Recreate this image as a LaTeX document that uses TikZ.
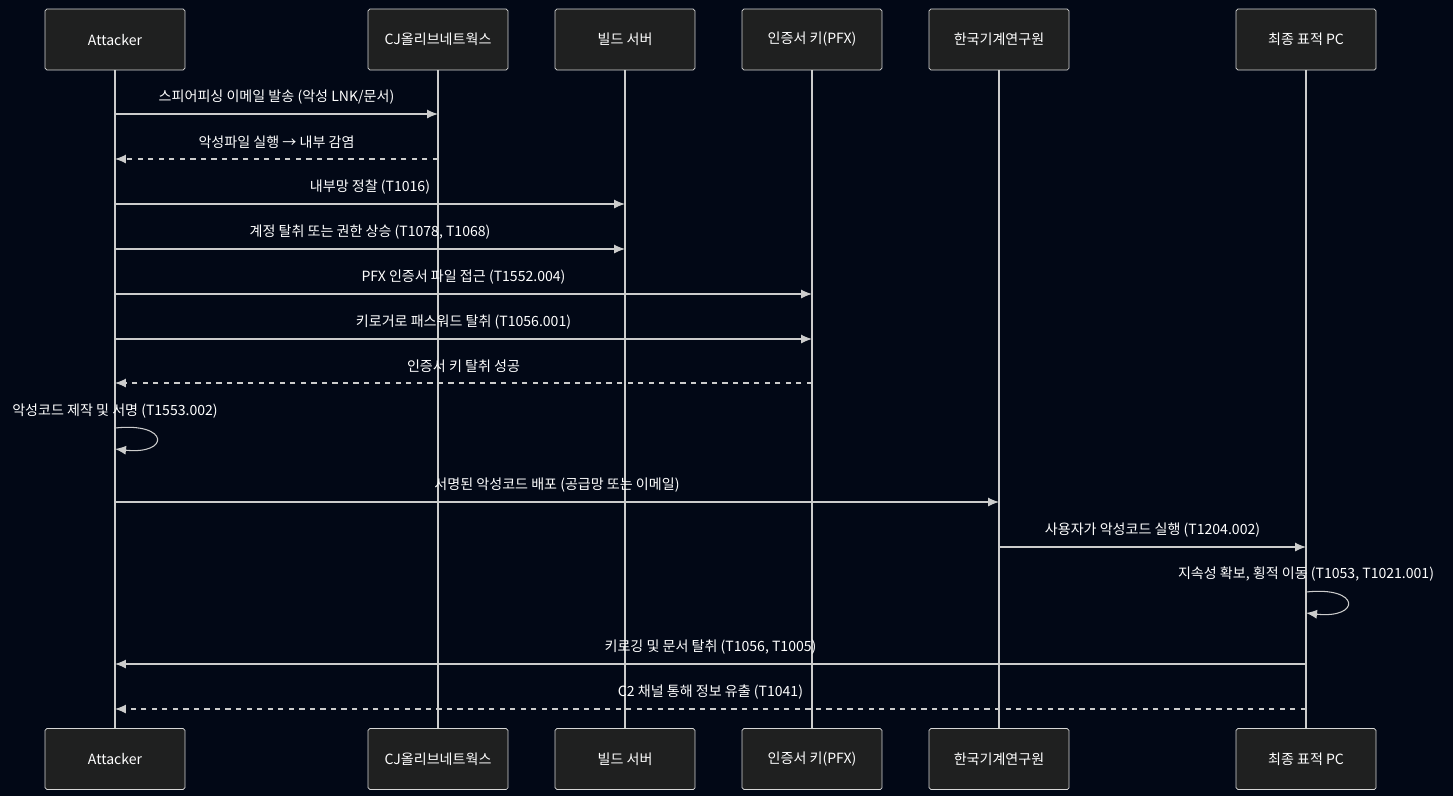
\documentclass[tikz,border=0pt]{standalone}
\usepackage{fontspec}
\setmainfont{Noto Sans CJK KR}
\usetikzlibrary{positioning,arrows.meta}
\definecolor{bgdark}{HTML}{020816}
\definecolor{boxfill}{HTML}{1F2020}
\definecolor{linegray}{HTML}{CCCCCC}
\tikzset{
  actor/.style={draw=linegray!80,fill=boxfill,rounded corners=1pt,minimum width=2.8cm,minimum height=1.22cm,text=white,font=\fontsize{8}{10}\selectfont},
  lifeline/.style={draw=linegray,line width=0.6pt},
  msgline/.style={draw=linegray,line width=0.6pt,-{Latex[length=2.2mm,width=1.8mm]}},
  reply/.style={dashed},
  msglabel/.style={midway,yshift=0.34cm,text=white,font=\fontsize{8}{10}\selectfont,inner sep=0pt},
}
\newcommand\msg[5]{\draw[msgline,#5] (#1 |- 0,#3) -- node[msglabel]{#4} (#2 |- 0,#3);}
\begin{document}
\begin{tikzpicture}[x=0.02cm,y=-0.02cm]
\fill[bgdark] (0,0) rectangle (1453,796);
\useasboundingbox (0,0) rectangle (1453,796);
% the actors
\node[actor] (atk) at (115,39.5) {Attacker};
\node[actor] (cj) at (438,39.5) {CJ올리브네트웍스};
\node[actor] (build) at (625,39.5) {빌드 서버};
\node[actor] (pfx) at (812,39.5) {인증서 키(PFX)};
\node[actor] (kimm) at (999,39.5) {한국기계연구원};
\node[actor] (pc) at (1306,39.5) {최종 표적 PC};
\node[actor] (atkB) at (115,759) {Attacker};
\node[actor] (cjB) at (438,759) {CJ올리브네트웍스};
\node[actor] (buildB) at (625,759) {빌드 서버};
\node[actor] (pfxB) at (812,759) {인증서 키(PFX)};
\node[actor] (kimmB) at (999,759) {한국기계연구원};
\node[actor] (pcB) at (1306,759) {최종 표적 PC};
% lifelines
\foreach \a in {atk,cj,build,pfx,kimm,pc}
  \draw[lifeline] (\a.south) -- (\a B.north);
% messages
\msg{atk}{cj}{114}{스피어피싱 이메일 발송 (악성 LNK/문서)}{}
\msg{cj}{atk}{159}{악성파일 실행 → 내부 감염}{reply}
\msg{atk}{build}{204}{내부망 정찰 (T1016)}{}
\msg{atk}{build}{249}{계정 탈취 또는 권한 상승 (T1078, T1068)}{}
\msg{atk}{pfx}{294}{PFX 인증서 파일 접근 (T1552.004)}{}
\msg{atk}{pfx}{339}{키로거로 패스워드 탈취 (T1056.001)}{}
\msg{pfx}{atk}{383}{인증서 키 탈취 성공}{reply}
% self call on attacker
\node[text=white,font=\fontsize{8}{10}\selectfont,inner sep=0pt] (signlbl) at (115,411) {악성코드 제작 및 서명 (T1553.002)};
\draw[msgline] (atk |- 0,428) .. controls (170,422) and (170,455) .. (atk |- 0,449);
\msg{atk}{kimm}{502}{서명된 악성코드 배포 (공급망 또는 이메일)}{}
\msg{kimm}{pc}{547}{사용자가 악성코드 실행 (T1204.002)}{}
% self call on target pc
\node[text=white,font=\fontsize{8}{10}\selectfont,inner sep=0pt] (perslbl) at (1306,574) {지속성 확보, 횡적 이동 (T1053, T1021.001)};
\draw[msgline] (pc |- 0,592) .. controls (1361,586) and (1361,619) .. (pc |- 0,613);
\msg{pc}{atk}{664}{키로깅 및 문서 탈취 (T1056, T1005)}{}
\msg{pc}{atk}{709}{C2 채널 통해 정보 유출 (T1041)}{reply}
\end{tikzpicture}
\end{document}
